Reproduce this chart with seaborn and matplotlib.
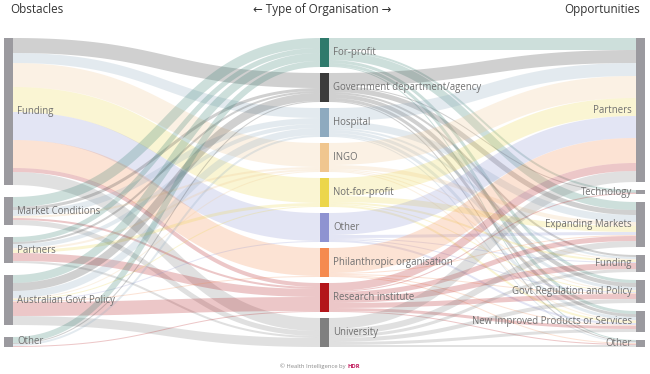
import numpy as np
import matplotlib.pyplot as plt
import seaborn as sns

# Nodes
obstacles = ["Funding", "Market Conditions", "Partners", "Australian Govt Policy", "Other"]
org_types = ["For-profit", "Government department/agency", "Hospital", "INGO",
             "Not-for-profit", "Other", "Philanthropic organisation",
             "Research institute", "University"]
opportunities = ["Partners", "Technology", "Expanding Markets", "Funding",
                 "Govt Regulation and Policy", "New Improved Products or Services", "Other"]

org_colors = ["#2f7a6c", "#3b3b3b", "#8eaabf", "#f0c68f", "#ecd64b",
              "#8e93d1", "#f58a4f", "#b3161a", "#7f7f7f"]

# obstacle -> organisation type (values in org_types order)
obs_funding = [0, 15, 10, 24, 25, 28, 28, 4, 13]
obs_market = [10, 3, 6, 2, 0, 0, 0, 2, 5]
obs_partners = [5, 2, 4, 2, 3, 0, 0, 8, 2]
obs_govt_policy = [8, 8, 7, 1, 1, 1, 1, 14, 9]
obs_other = [6, 1, 2, 0, 0, 0, 0, 1, 0]

# organisation type -> opportunity (values in org_types order)
opp_partners = [12, 13, 13, 22, 18, 22, 25, 8, 11]
opp_technology = [2, 1, 0, 0, 0, 0, 0, 1, 0]
opp_markets = [8, 5, 7, 4, 6, 3, 1, 5, 6]
opp_funding = [0, 2, 2, 1, 2, 1, 0, 6, 3]
opp_regulation = [3, 4, 3, 1, 1, 1, 1, 5, 4]
opp_products = [3, 3, 3, 1, 2, 2, 1, 3, 3]
opp_other = [1, 1, 1, 0, 0, 0, 1, 1, 2]

left_flows = np.array([obs_funding, obs_market, obs_partners, obs_govt_policy, obs_other], float)
right_flows = np.array([opp_partners, opp_technology, opp_markets, opp_funding,
                        opp_regulation, opp_products, opp_other], float).T  # org x opp

sns.set_theme(style="white")
plt.rcParams['font.family'] = ['Open Sans', 'DejaVu Sans']

W, H = 650, 374
fig = plt.figure(figsize=(W / 100, H / 100), dpi=100)
ax = fig.add_axes([0, 0, 1, 1])
ax.set_xlim(0, W)
ax.set_ylim(H, 0)
ax.axis('off')

top, bottom = 38, 347
node_w = 9
col_x = [4, 320, 636]


def layout(sizes):
    # stack nodes from top to bottom, spreading the spare room as gaps
    sizes = np.asarray(sizes, float)
    gap = (bottom - top - sizes.sum()) / (len(sizes) - 1)
    return top + np.concatenate([[0], np.cumsum(sizes[:-1] + gap)])


left_y = layout(left_flows.sum(axis=1))
mid_sizes = np.maximum(left_flows.sum(axis=0), right_flows.sum(axis=1))
mid_y = layout(mid_sizes)
right_y = layout(right_flows.sum(axis=0))

t = np.linspace(0, 1, 80)


def band(x0, x1, y0, y1, w, color):
    xm = (x0 + x1) / 2
    xs = (1 - t) ** 3 * x0 + 3 * (1 - t) ** 2 * t * xm + 3 * (1 - t) * t ** 2 * xm + t ** 3 * x1
    ys = (1 - t) ** 3 * y0 + 3 * (1 - t) ** 2 * t * y0 + 3 * (1 - t) * t ** 2 * y1 + t ** 3 * y1
    sns.lineplot(x=xs, y=ys, ax=ax, color=color, alpha=0.24, linewidth=w * 0.72,
                 sort=False, estimator=None, solid_capstyle='butt')


def draw_links(flows, src_y, tgt_y, x0, x1, color_of):
    n_src, n_tgt = flows.shape
    src_pos, tgt_pos = {}, {}
    off = src_y.copy()
    for i in range(n_src):
        for j in range(n_tgt):
            src_pos[(i, j)] = off[i]
            off[i] += flows[i, j]
    off = tgt_y.copy()
    for j in range(n_tgt):
        for i in range(n_src):
            tgt_pos[(i, j)] = off[j]
            off[j] += flows[i, j]
    for i in range(n_src):
        for j in range(n_tgt):
            v = flows[i, j]
            if v > 0:
                band(x0, x1, src_pos[(i, j)] + v / 2, tgt_pos[(i, j)] + v / 2, v, color_of(i, j))


draw_links(left_flows, left_y, mid_y, col_x[0] + node_w, col_x[1], lambda i, j: org_colors[j])
draw_links(right_flows, mid_y, right_y, col_x[1] + node_w, col_x[2], lambda i, j: org_colors[i])

# nodes
node_grey = "#9b9a9f"
lab_col = "#707070"
fs = 6.9
ax.bar(x=[col_x[0]] * len(obstacles), height=left_flows.sum(axis=1), bottom=left_y,
       width=node_w, align='edge', color=node_grey, linewidth=0)
for name, y, h in zip(obstacles, left_y, left_flows.sum(axis=1)):
    ax.text(col_x[0] + node_w + 4, y + h / 2, name, ha='left', va='center', fontsize=fs, color=lab_col)

ax.bar(x=[col_x[1]] * len(org_types), height=mid_sizes, bottom=mid_y,
       width=node_w, align='edge', color=org_colors, linewidth=0)
for name, y, h in zip(org_types, mid_y, mid_sizes):
    ax.text(col_x[1] + node_w + 4, y + h / 2, name, ha='left', va='center', fontsize=fs, color=lab_col)

ax.bar(x=[col_x[2]] * len(opportunities), height=right_flows.sum(axis=0), bottom=right_y,
       width=node_w, align='edge', color=node_grey, linewidth=0)
for name, y, h in zip(opportunities, right_y, right_flows.sum(axis=0)):
    ax.text(col_x[2] - 4, y + h / 2, name, ha='right', va='center', fontsize=fs, color=lab_col)

# headers
ax.text(10, 9, "Obstacles", ha='left', va='center', fontsize=8.4, color="#333333")
ax.text(322, 9, "\u2190 Type of Organisation \u2192", ha='center', va='center', fontsize=8.4, color="#333333")
ax.text(640, 9, "Opportunities", ha='right', va='center', fontsize=8.4, color="#333333")

# footer
ax.text(346, 366, "\u00a9 Health Intelligence by", ha='right', va='center', fontsize=4.2, color="#8a8a8a")
ax.text(347.5, 366, "HDR", ha='left', va='center', fontsize=4.2, color="#c0185a", fontweight='bold')

fig.savefig("out.png", dpi=100)
